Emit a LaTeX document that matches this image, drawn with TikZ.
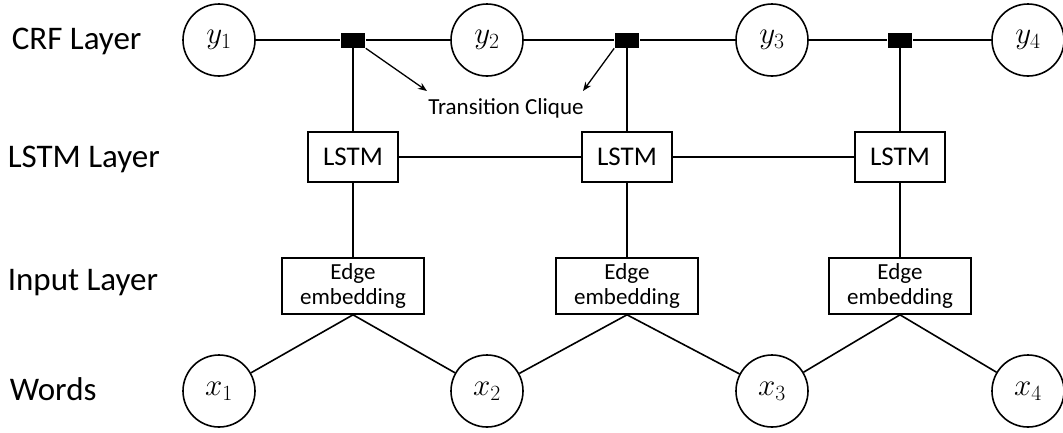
\documentclass[tikz,border=0pt]{standalone}
\usepackage{fix-cm}
\usepackage{fontspec}
\setmainfont{Carlito}
\usetikzlibrary{arrows.meta}
\begin{document}
\begin{tikzpicture}[x=1pt,y=-1pt,
  line width=1.6pt,
  var/.style={circle,draw,minimum size=72pt,inner sep=0pt,font=\fontsize{31}{31}\selectfont},
  clique/.style={rectangle,fill=black,minimum width=24pt,minimum height=15pt,inner sep=0pt},
  lstmbox/.style={rectangle,draw,minimum width=90pt,minimum height=50pt,inner sep=0pt,font=\fontsize{27}{27}\selectfont},
  embbox/.style={rectangle,draw,minimum width=142pt,minimum height=56pt,inner sep=0pt,align=center,font=\fontsize{23}{25}\selectfont},
  layerlabel/.style={anchor=west,inner sep=0pt,font=\fontsize{33}{33}\selectfont},
  arr/.style={-{Stealth[length=9pt,width=7pt]},line width=1.3pt}]
\useasboundingbox (0,0) rectangle (1063,432);
% layer labels
\node[layerlabel] (lcrf) at (11,41) {CRF Layer};
\node[layerlabel] (llstm) at (7,159) {LSTM Layer};
\node[layerlabel] (linp) at (7,283) {Input Layer};
\node[layerlabel] (lwords) at (9,389) {Words};
% CRF layer
\node[var] (y1) at (219,40) {$y_1$};
\node[var] (y2) at (487,40) {$y_2$};
\node[var] (y3) at (772,40) {$y_3$};
\node[var] (y4) at (1028,40) {$y_4$};
\node[clique] (c1) at (353,40) {};
\node[clique] (c2) at (627,40) {};
\node[clique] (c3) at (900,40) {};
% LSTM layer
\node[lstmbox] (l1) at (353,157) {LSTM};
\node[lstmbox] (l2) at (627,157) {LSTM};
\node[lstmbox] (l3) at (900,157) {LSTM};
% Input layer
\node[embbox] (e1) at (353,286) {Edge\\embedding};
\node[embbox] (e2) at (627,286) {Edge\\embedding};
\node[embbox] (e3) at (900,286) {Edge\\embedding};
% Words
\node[var] (x1) at (219,391) {$x_1$};
\node[var] (x2) at (487,391) {$x_2$};
\node[var] (x3) at (772,391) {$x_3$};
\node[var] (x4) at (1028,391) {$x_4$};
% Transition clique label
\node[inner sep=0pt,font=\fontsize{23}{23}\selectfont] (tc) at (506,108) {Transition Clique};
\coordinate (ta) at (427,91);
\coordinate (tb) at (583,91);
% connectors
\draw (y1) -- (c1) -- (y2) -- (c2) -- (y3) -- (c3) -- (y4);
\draw (c1) -- (l1);
\draw (c2) -- (l2);
\draw (c3) -- (l3);
\draw (l1) -- (l2) -- (l3);
\draw (l1) -- (e1);
\draw (l2) -- (e2);
\draw (l3) -- (e3);
\draw (e1.south) -- (x1);
\draw (e1.south) -- (x2);
\draw (e2.south) -- (x2);
\draw (e2.south) -- (x3);
\draw (e3.south) -- (x3);
\draw (e3.south) -- (x4);
\draw[arr] (c1.south east) -- (ta);
\draw[arr] (c2.south west) -- (tb);
\end{tikzpicture}
\end{document}
